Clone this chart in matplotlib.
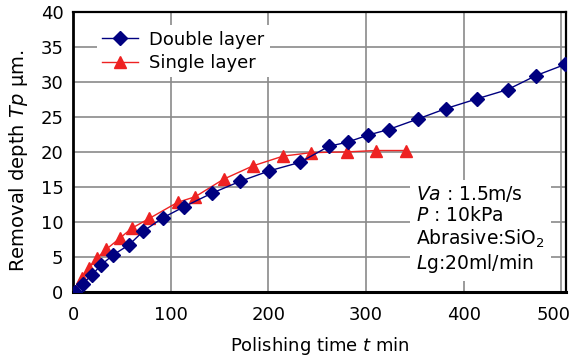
import matplotlib
matplotlib.use("Agg")
import matplotlib.pyplot as plt
from matplotlib.transforms import ScaledTranslation

plt.rcParams['font.family'] = ['DejaVu Sans']
plt.rcParams['mathtext.fontset'] = 'dejavusans'

# Double layer pad
t_double = [2, 10, 19, 29, 41, 57, 72, 92, 114, 142, 171, 201, 232,
            262, 281, 302, 323, 353, 382, 414, 445, 474, 504]
d_double = [0.0, 1.2, 2.4, 3.9, 5.3, 6.7, 8.7, 10.6, 12.2, 14.1, 15.8, 17.3, 18.5,
            20.8, 21.4, 22.4, 23.2, 24.7, 26.2, 27.6, 28.9, 30.9, 32.5]

# Single layer pad
t_single = [2, 9, 16, 24, 34, 48, 60, 78, 107, 125, 154, 184, 215, 244, 280, 310, 341]
d_single = [0.2, 2.0, 3.4, 4.8, 6.1, 7.7, 9.1, 10.5, 12.8, 13.6, 16.1, 18.0, 19.4,
            19.9, 20.0, 20.2, 20.2]

x_ticks = [0, 100, 200, 300, 400, 500]
y_ticks = [0, 5, 10, 15, 20, 25, 30, 35, 40]

conditions = ("$\\mathit{Va}$ : 1.5m/s\n"
              "$\\mathit{P}$ : 10kPa\n"
              "Abrasive:SiO$_2$\n"
              "$\\mathit{L}$g:20ml/min")

fig = plt.figure(figsize=(5.76, 3.6), dpi=100)
ax = fig.add_axes([0.127, 0.189, 0.856, 0.778])

ax.plot(t_double, d_double, color='#000080', lw=1.0, marker='D', ms=7.5,
        mec='#000080', mfc='#000080', label='Double layer', zorder=4)
ax.plot(t_single, d_single, color='#ee2222', lw=1.0, marker='^', ms=8.5,
        mec='#ee2222', mfc='#ee2222', label='Single layer', zorder=3)

ax.set_xlim(0, 505)
ax.set_ylim(0, 40)
ax.set_xticks(x_ticks)
ax.set_yticks(y_ticks)
ax.tick_params(length=0, labelsize=13)
ax.tick_params(axis='y', pad=7)
ax.tick_params(axis='x', pad=10)
ax.grid(True, color='#8a8a8a', lw=1.2)
ax.set_axisbelow(True)
for s in ax.spines.values():
    s.set_linewidth(1.6)
ax.spines['bottom'].set_linewidth(2.2)
ax.spines['left'].set_linewidth(2.0)

# keep the last x tick label inside the figure
fig.canvas.draw()
last = ax.get_xticklabels()[-1]
last.set_transform(last.get_transform() + ScaledTranslation(-8 / 100, 0, fig.dpi_scale_trans))

ax.set_xlabel('Polishing time $\\mathit{t}$ min', fontsize=13, labelpad=8)
ax.set_ylabel('Removal depth $\\mathit{Tp}$ µm.', fontsize=14)
ax.yaxis.set_label_coords(-0.087, 0.468)

leg = ax.legend(loc='upper left', bbox_to_anchor=(0.03, 0.985), fontsize=13,
                frameon=True, fancybox=False, edgecolor='none', facecolor='white',
                framealpha=1, handlelength=2.0, borderpad=0.3, labelspacing=0.3,
                handletextpad=0.6)

ax.text(351, 8.9, conditions, fontsize=13.5, linespacing=1.15, va='center', ha='left',
        bbox=dict(facecolor='white', edgecolor='none', pad=4), zorder=5)

fig.savefig('out.png', dpi=100)
